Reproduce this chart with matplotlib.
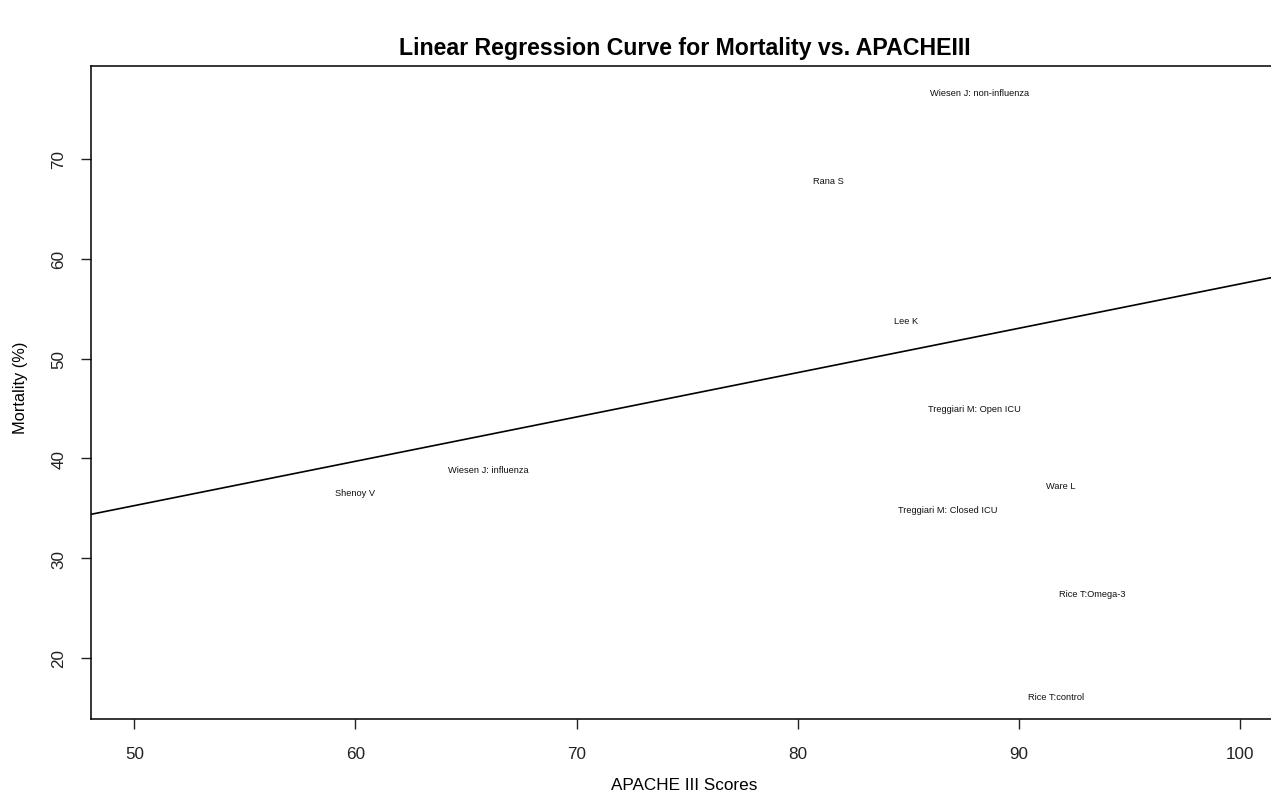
import matplotlib
matplotlib.use("Agg")
import matplotlib.pyplot as plt

# study labels and their (APACHE III, mortality) positions
studies = ["Wiesen J: non-influenza", "Rana S", "Lee K", "Treggiari M: Open ICU",
           "Wiesen J: influenza", "Shenoy V", "Ware L", "Treggiari M: Closed ICU",
           "Rice T:Omega-3", "Rice T:control"]
apache = [88.2, 81.4, 84.9, 88.0, 66.0, 60.0, 91.9, 86.8, 93.3, 91.7]
mortality = [76.7, 67.8, 53.8, 45.0, 38.9, 36.6, 37.3, 34.9, 26.5, 16.1]

# fitted regression line
intercept = 13.05
slope = 0.4443

plt.rcParams['font.family'] = ['Liberation Sans', 'DejaVu Sans']

fig = plt.figure(figsize=(12.71, 8.03), dpi=100)
ax = fig.add_axes([0.0714, 0.1034, 0.9286, 0.8136])

for name, x, y in zip(studies, apache, mortality):
    ax.text(x, y, name, ha='center', va='center', fontsize=6.7, color='#111111')

ax.axline((0, intercept), slope=slope, color='black', lw=1.2)

ax.set_xlim(48.03, 101.4)
ax.set_ylim(13.89, 79.35)
ax.set_xticks([50, 60, 70, 80, 90, 100])
ax.set_yticks([20, 30, 40, 50, 60, 70])
ax.tick_params(axis='both', labelsize=12.3, length=7.5, width=1, colors='#222222')
ax.tick_params(axis='x', pad=12)
ax.tick_params(axis='y', pad=10, labelrotation=90)
for lab in ax.get_yticklabels():
    lab.set_va('center')
ax.spines['right'].set_visible(False)
for s in ['left', 'top', 'bottom']:
    ax.spines[s].set_linewidth(1.1)

ax.set_xlabel("APACHE III Scores", fontsize=12.3, va='center')
ax.xaxis.set_label_coords(0.5025, -0.101)
ax.set_ylabel("Mortality (%)", fontsize=11.8, va='center')
ax.yaxis.set_label_coords(-0.0599, 0.508)
fig.suptitle("Linear Regression Curve for Mortality vs. APACHEIII", fontsize=16.7,
             fontweight='bold', x=0.539, y=0.939, va='center')

fig.savefig("out.png", dpi=100)
